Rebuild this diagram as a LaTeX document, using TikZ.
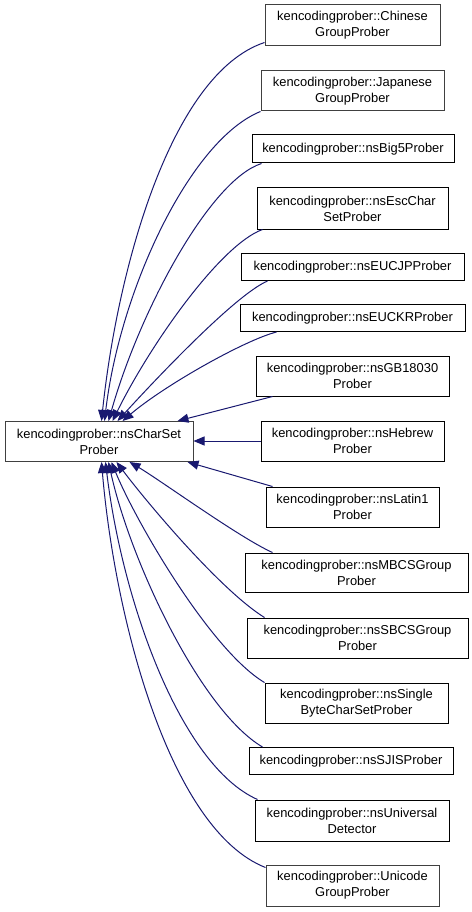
\documentclass[tikz,border=0pt]{standalone}
\usepackage{fontspec}
\setmainfont{Liberation Sans}
\usetikzlibrary{arrows.meta}
\definecolor{edgeblue}{HTML}{191970}
\definecolor{boxgray}{HTML}{404040}
\begin{document}
\begin{tikzpicture}[x=1pt,y=-1pt,
  cls/.style={draw=black, line width=1pt, fill=white, align=center, inner sep=0pt,
    font=\fontsize{12.9}{16}\selectfont},
  grayb/.style={draw=boxgray},
  inh/.style={draw=edgeblue, line width=1pt, -{Triangle[length=11pt,width=9pt]}}]
\useasboundingbox (0,0) rectangle (471,912);

\node[cls, grayb, minimum width=188pt, minimum height=40pt] (base) at (99,441.5) {kencodingprober::nsCharSet\\Prober};

\node[cls, grayb, minimum width=175pt, minimum height=41pt] (chinese) at (352.5,25.5) {kencodingprober::Chinese\\GroupProber};
\node[cls, grayb, minimum width=183pt, minimum height=40pt] (japanese) at (352.5,91) {kencodingprober::Japanese\\GroupProber};
\node[cls, minimum width=202pt, minimum height=28pt] (big5) at (353,149) {kencodingprober::nsBig5Prober};
\node[cls, minimum width=191pt, minimum height=41pt] (esc) at (352.5,208.5) {kencodingprober::nsEscChar\\SetProber};
\node[cls, minimum width=223pt, minimum height=27pt] (eucjp) at (352.5,267) {kencodingprober::nsEUCJPProber};
\node[cls, minimum width=225pt, minimum height=27pt] (euckr) at (352.5,318) {kencodingprober::nsEUCKRProber};
\node[cls, minimum width=193pt, minimum height=40pt] (gb) at (352.5,376) {kencodingprober::nsGB18030\\Prober};
\node[cls, minimum width=183pt, minimum height=40pt] (hebrew) at (352.5,441) {kencodingprober::nsHebrew\\Prober};
\node[cls, minimum width=173pt, minimum height=40pt] (latin) at (352.5,507) {kencodingprober::nsLatin1\\Prober};
\node[cls, minimum width=223pt, minimum height=39pt] (mbcs) at (356.5,572.5) {kencodingprober::nsMBCSGroup\\Prober};
\node[cls, minimum width=221pt, minimum height=40pt] (sbcs) at (357.5,638) {kencodingprober::nsSBCSGroup\\Prober};
\node[cls, minimum width=183pt, minimum height=40pt] (single) at (356.5,703) {kencodingprober::nsSingle\\ByteCharSetProber};
\node[cls, minimum width=204pt, minimum height=27pt] (sjis) at (351,761) {kencodingprober::nsSJISProber};
\node[cls, minimum width=194pt, minimum height=41pt] (univ) at (352,820.5) {kencodingprober::nsUniversal\\Detector};
\node[cls, grayb, minimum width=173pt, minimum height=41pt] (unicode) at (352.5,885.5) {kencodingprober::Unicode\\GroupProber};

% upper edges
\draw[inh] ([yshift=4pt]chinese.south west) .. controls (170,74) and (117,272) .. ([xshift=97pt]base.north west);
\draw[inh] (japanese.south west) .. controls (190,140) and (120,290) .. ([xshift=100pt]base.north west);
\draw[inh] ([xshift=10pt]big5.south west) .. controls (210,180) and (140,310) .. ([xshift=104pt]base.north west);
\draw[inh] ([xshift=6pt]esc.south west) .. controls (220,245) and (150,345) .. ([xshift=108pt]base.north west);
\draw[inh] ([xshift=27pt]eucjp.south west) .. controls (235,295) and (155,380) .. ([xshift=113pt]base.north west);
\draw[inh] ([xshift=37pt]euckr.south west) .. controls (245,340) and (165,385) .. ([xshift=118pt]base.north west);
% side edges
\draw[inh] ([xshift=17pt]gb.south west) -- ([xshift=-16pt]base.north east);
\draw[inh] (hebrew.west) -- (hebrew.west -| base.east);
\draw[inh] ([xshift=7pt]latin.north west) -- ([xshift=-6pt]base.south east);
% lower edges
\draw[inh] ([xshift=28pt]mbcs.north west) .. controls (240,538) and (160,480) .. ([xshift=125pt]base.south west);
\draw[inh] ([xshift=18pt]sbcs.north west) .. controls (220,590) and (145,500) .. ([xshift=112pt]base.south west);
\draw[inh] (single.north west) .. controls (210,650) and (135,520) .. ([xshift=107pt]base.south west);
\draw[inh] ([xshift=14pt]sjis.north west) .. controls (200,710) and (130,560) .. ([xshift=104pt]base.south west);
\draw[inh] ([xshift=3pt]univ.north west) .. controls (180,765) and (122,600) .. ([xshift=101pt]base.south west);
\draw[inh] ([yshift=-3pt]unicode.north west) .. controls (170,830) and (115,620) .. ([xshift=97pt]base.south west);
\end{tikzpicture}
\end{document}
